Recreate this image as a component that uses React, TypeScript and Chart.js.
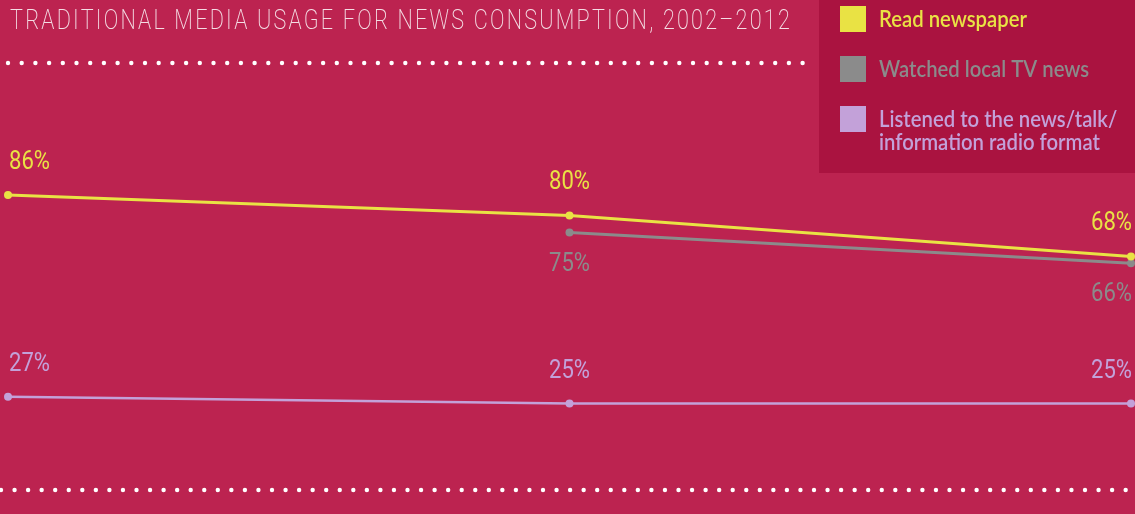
import React, { useEffect, useRef } from "react";
import { Chart, registerables } from "chart.js";
Chart.register(...registerables);

const years = ["2002", "2007", "2012"];
const newspaper = [86, 80, 68];
const localTV = [null, 75, 66];
const radio = [27, 25, 25];
const seriesNames = [
  ["Read newspaper"],
  ["Watched local TV news"],
  ["Listened to the news/talk/", "information radio format"],
];
const titleText = "TRADITIONAL MEDIA USAGE FOR NEWS CONSUMPTION, 2002\u20132012";

const BG = "#BC2350";
const LEGEND_BG = "#AA1340";
const YELLOW = "#E9E244";
const GRAY = "#8B8B8B";
const LAVENDER = "#C3A1D9";
const colors = [YELLOW, GRAY, LAVENDER];
const labelBelow = [false, true, false];

const decor = {
  id: "decor",
  beforeDraw(chart: any) {
    const ctx = chart.ctx;
    ctx.save();
    ctx.fillStyle = BG;
    ctx.fillRect(0, 0, chart.width, chart.height);
    // title
    ctx.font = "200 27px Roboto";
    ctx.fillStyle = "#F4DDE4";
    ctx.textBaseline = "alphabetic";
    const sxT = 0.8;
    (ctx as any).letterSpacing = "0px";
    const w0 = ctx.measureText(titleText).width;
    const n = titleText.length;
    const ls = (782 / sxT - w0) / n;
    (ctx as any).letterSpacing = ls + "px";
    ctx.save();
    ctx.translate(10, 29);
    ctx.scale(sxT, 1);
    ctx.fillText(titleText, 0, 0);
    ctx.restore();
    (ctx as any).letterSpacing = "0px";
    // dotted lines
    ctx.fillStyle = "#FFFFFF";
    for (let x = 8; x <= 805; x += 13.7) {
      ctx.beginPath();
      ctx.arc(x, 63, 2.2, 0, Math.PI * 2);
      ctx.fill();
    }
    for (let x = 1; x <= chart.width; x += 13.55) {
      ctx.beginPath();
      ctx.arc(x, 490, 2.2, 0, Math.PI * 2);
      ctx.fill();
    }
    // legend box
    ctx.fillStyle = LEGEND_BG;
    ctx.fillRect(819, 0, chart.width - 819, 173);
    ctx.font = "600 23px Lato";
    const ref = ctx.measureText("Read newspaper").width;
    const sx = 148 / ref;
    const tops = [6, 56, 106];
    seriesNames.forEach((lines, i) => {
      ctx.fillStyle = colors[i];
      ctx.fillRect(840, tops[i], 26, 26);
      lines.forEach((line, j) => {
        ctx.save();
        ctx.translate(879, tops[i] + 21 + j * 23);
        ctx.scale(sx, 1);
        ctx.fillText(line, 0, 0);
        ctx.restore();
      });
    });
    ctx.restore();
  },
  afterDatasetsDraw(chart: any) {
    const ctx = chart.ctx;
    ctx.save();
    ctx.font = "400 26px Roboto";
    ctx.textBaseline = "alphabetic";
    chart.data.datasets.forEach((ds: any, i: number) => {
      const meta = chart.getDatasetMeta(i);
      meta.data.forEach((pt: any, j: number) => {
        const v = ds.data[j];
        if (v === null || v === undefined) return;
        const text = v + "%";
        const tw = ctx.measureText(text).width * 0.85;
        const n = ds.data.length;
        let left;
        if (j === 0) left = pt.x + 1;
        else if (j === n - 1) left = pt.x + 1 - tw;
        else left = pt.x - tw / 2;
        const base = labelBelow[i] ? pt.y + 38 : pt.y - 26;
        ctx.fillStyle = colors[i];
        ctx.save();
        ctx.translate(left, base);
        ctx.scale(0.85, 1);
        ctx.fillText(text, 0, 0);
        ctx.restore();
      });
    });
    ctx.restore();
  },
};

export default function App() {
  const ref = useRef<HTMLCanvasElement>(null);
  useEffect(() => {
    if (!ref.current) return;
    const mk = (label: string, data: any[], color: string, bw: number) => ({
      label,
      data,
      borderColor: color,
      backgroundColor: color,
      pointBackgroundColor: color,
      pointBorderWidth: 0,
      pointRadius: 4,
      borderWidth: bw,
      tension: 0,
      spanGaps: false,
      clip: false as any,
    });
    const chart = new Chart(ref.current, {
      type: "line",
      data: {
        labels: years,
        datasets: [
          mk(seriesNames[0].join(" "), newspaper, YELLOW, 3),
          mk(seriesNames[1].join(" "), localTV, GRAY, 3),
          mk(seriesNames[2].join(" "), radio, LAVENDER, 2.5),
        ],
      },
      options: {
        animation: false,
        responsive: false,
        layout: { padding: { top: 147, bottom: 25, left: 8, right: 4 } },
        scales: {
          x: { type: "category", display: false, offset: false },
          y: { display: false, min: 0, max: 100 },
        },
        plugins: { legend: { display: false }, tooltip: { enabled: false } },
      },
      plugins: [decor],
    });
    return () => chart.destroy();
  }, []);
  return (
    <div style={{ position: "absolute", left: 0, top: 0, width: 1135, height: 514 }}>
      <canvas ref={ref} width={1135} height={514} style={{ width: 1135, height: 514, display: "block" }} />
    </div>
  );
}
